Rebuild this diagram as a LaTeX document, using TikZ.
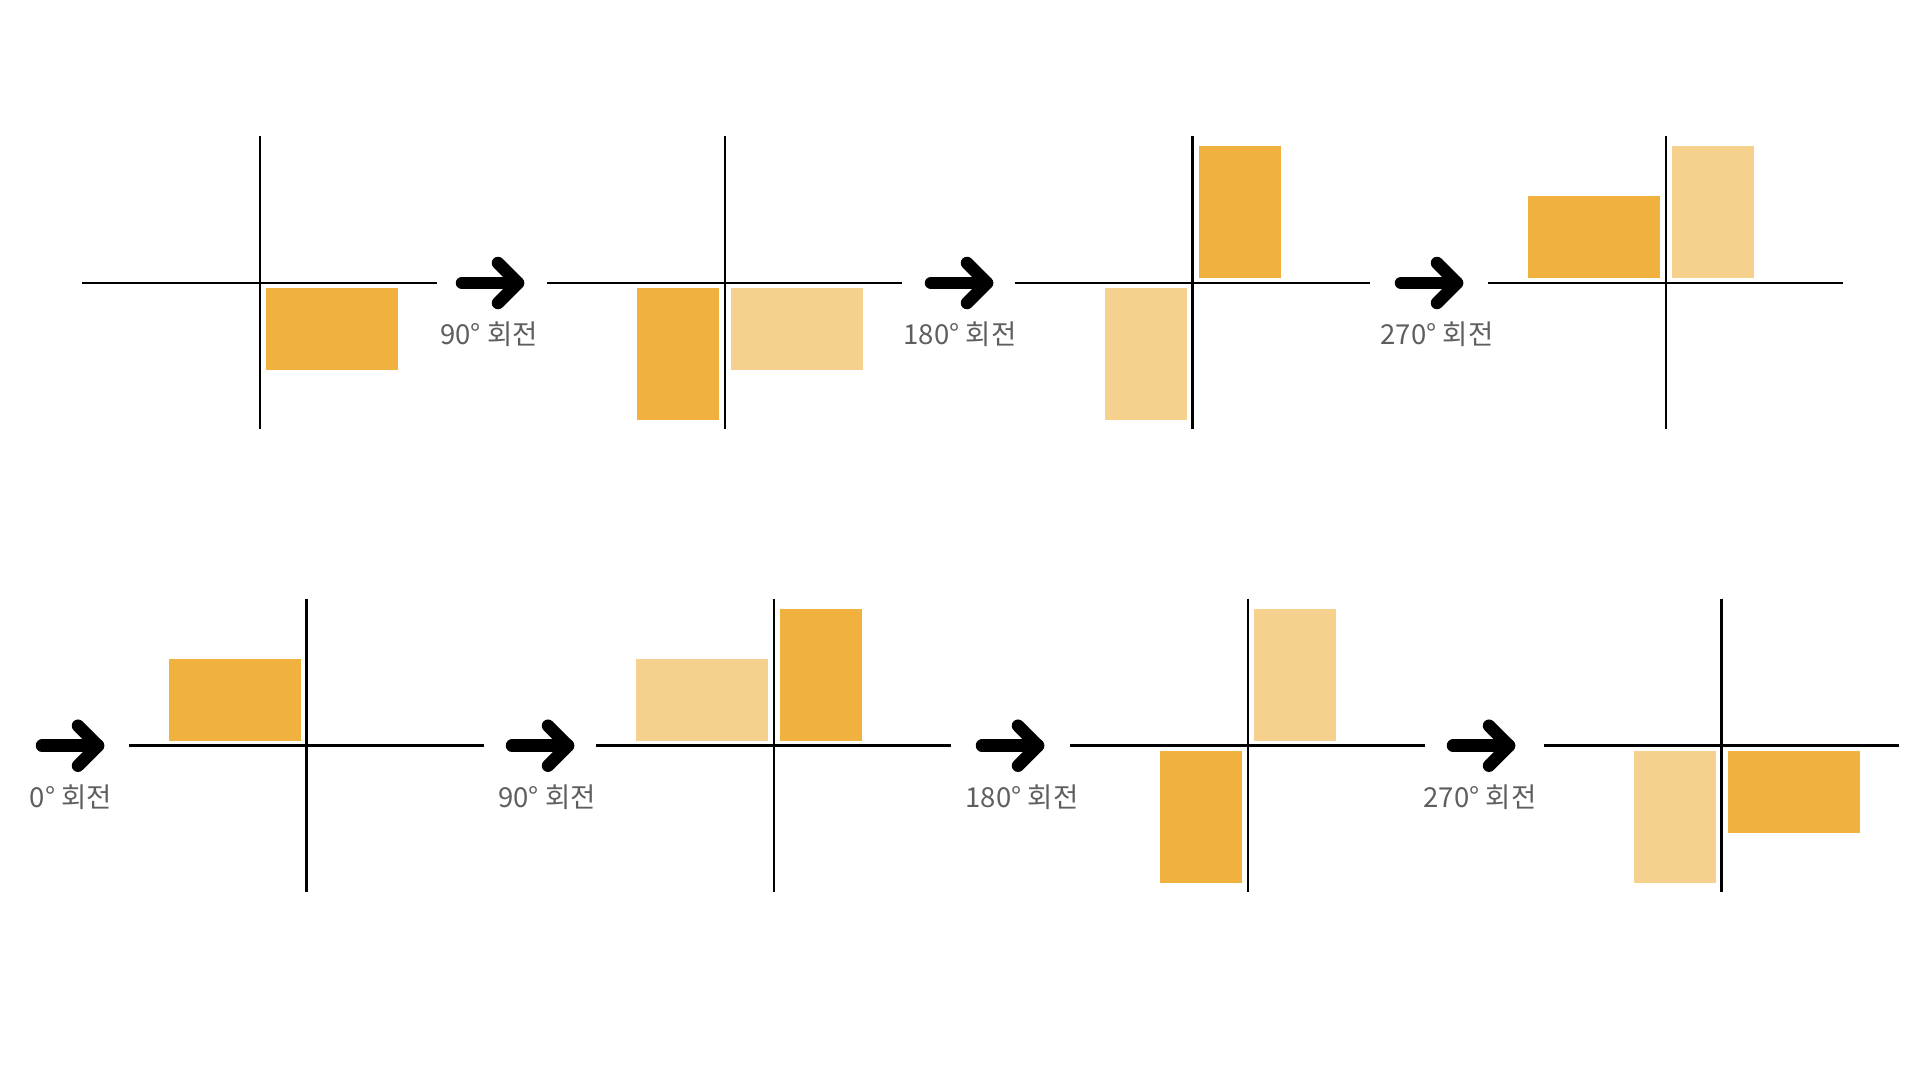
\documentclass[tikz,border=0pt]{standalone}
\usepackage{fontspec}
\setmainfont{Noto Sans CJK KR}
\definecolor{darkor}{HTML}{F0B13E}
\definecolor{lightor}{HTML}{F6D08D}
\definecolor{labelgray}{HTML}{5F5F5F}
\tikzset{
  axisline/.style={draw=black, line width=2.5pt},
  arrowline/.style={draw=black, line width=12.5pt, line cap=round, line join=round},
  darkbox/.style={fill=darkor},
  lightbox/.style={fill=lightor},
  lbl/.style={text=labelgray, font=\fontsize{27.5}{32}\selectfont, inner sep=0pt, anchor=center},
  axes/.pic={
    \coordinate (-W) at (-178,0); \coordinate (-E) at (177,0);
    \coordinate (-N) at (0,-147); \coordinate (-S) at (0,146);
    \draw[axisline] (-W) -- (-E);
    \draw[axisline] (-N) -- (-S);
  },
  bigarrow/.pic={
    \coordinate (-a) at (6,0); \coordinate (-t) at (62,0);
    \coordinate (-u) at (42,-20); \coordinate (-d) at (42,20);
    \draw[arrowline] (-a) -- (-t);
    \draw[arrowline] (-u) -- (-t) -- (-d);
  }
}
\begin{document}
\begin{tikzpicture}[x=1pt,y=-1pt]
\useasboundingbox (0,0) rectangle (1920,1080);
\fill[white] (0,0) rectangle (1920,1080);

% ---------- top row ----------
\begin{scope}[shift={(260,283)}]
  \fill[darkbox] (6,5) rectangle (138,87);
  \pic (p1) at (0,0) {axes};
\end{scope}
\pic (a1) at (456,283) {bigarrow};
\node[lbl] (l1) at (489,334) {90° 회전};

\begin{scope}[shift={(725,283)}]
  \fill[darkbox] (-88,5) rectangle (-6,137);
  \fill[lightbox] (6,5) rectangle (138,87);
  \pic (p2) at (0,0) {axes};
\end{scope}
\pic (a2) at (925,283) {bigarrow};
\node[lbl] (l2) at (960,334) {180° 회전};

\begin{scope}[shift={(1192.7,283)}]
  \fill[darkbox] (6,-137) rectangle (88,-5);
  \fill[lightbox] (-88,5) rectangle (-6,137);
  \pic (p3) at (0,0) {axes};
\end{scope}
\pic (a3) at (1395,283) {bigarrow};
\node[lbl] (l3) at (1437,334) {270° 회전};

\begin{scope}[shift={(1666,283)}]
  \fill[darkbox] (-138,-87) rectangle (-6,-5);
  \fill[lightbox] (6,-137) rectangle (88,-5);
  \pic (p4) at (0,0) {axes};
\end{scope}

% ---------- bottom row ----------
\pic (a5) at (36,745.7) {bigarrow};
\node[lbl] (l5) at (71,797) {0° 회전};
\begin{scope}[shift={(306.7,745.7)}]
  \fill[darkbox] (-138,-87) rectangle (-6,-5);
  \pic (p5) at (0,0) {axes};
\end{scope}

\pic (a6) at (506,745.7) {bigarrow};
\node[lbl] (l6) at (547,797) {90° 회전};
\begin{scope}[shift={(774,745.7)}]
  \fill[lightbox] (-138,-87) rectangle (-6,-5);
  \fill[darkbox] (6,-137) rectangle (88,-5);
  \pic (p6) at (0,0) {axes};
\end{scope}

\pic (a7) at (976,745.7) {bigarrow};
\node[lbl] (l7) at (1022,797) {180° 회전};
\begin{scope}[shift={(1248,745.7)}]
  \fill[lightbox] (6,-137) rectangle (88,-5);
  \fill[darkbox] (-88,5) rectangle (-6,137);
  \pic (p7) at (0,0) {axes};
\end{scope}

\pic (a8) at (1447,745.7) {bigarrow};
\node[lbl] (l8) at (1480,797) {270° 회전};
\begin{scope}[shift={(1721.7,745.7)}]
  \fill[lightbox] (-88,5) rectangle (-6,137);
  \fill[darkbox] (6,5) rectangle (138,87);
  \pic (p8) at (0,0) {axes};
\end{scope}
\end{tikzpicture}
\end{document}
